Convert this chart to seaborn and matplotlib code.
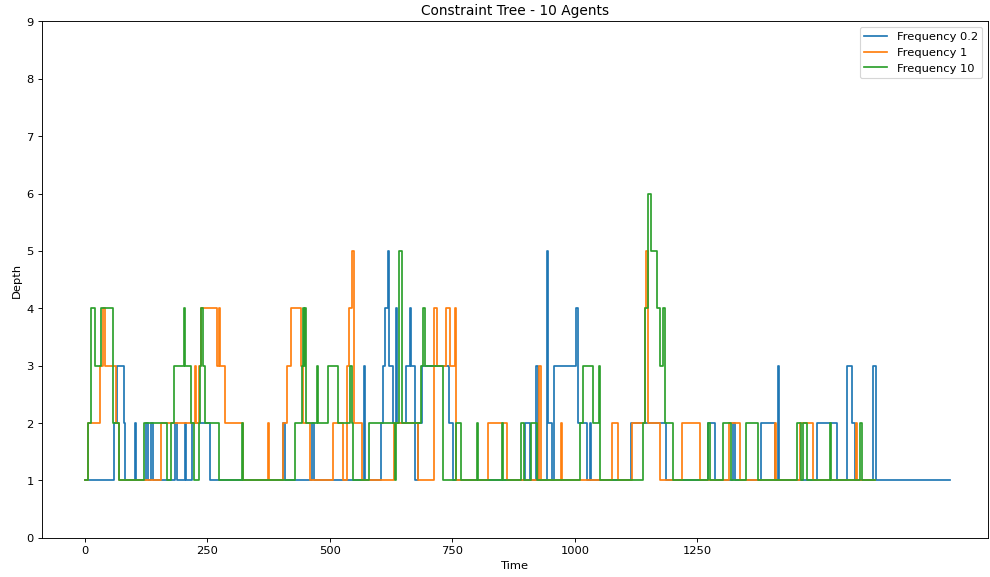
import matplotlib
matplotlib.use("Agg")
import matplotlib.pyplot as plt
import seaborn as sns
import pandas as pd

# Change points of each run: time at which the depth switches, and the new depth
freq_02_time = [0, 60, 66, 80, 83, 102, 104, 125, 130, 136, 139, 185, 189, 204, 207,
                218, 255, 405, 409, 464, 468, 569, 572, 605, 609, 612, 618, 620, 630,
                635, 637, 656, 663, 666, 673, 680, 688, 743, 751, 898, 908, 921, 925,
                944, 946, 954, 958, 1003, 1007, 1025, 1030, 1033, 1114, 1187, 1271,
                1286, 1322, 1326, 1379, 1408, 1414, 1416, 1495, 1534, 1556, 1566,
                1571, 1609, 1614, 1766]
freq_02_depth = [1, 2, 3, 2, 1, 2, 1, 2, 1, 2, 1, 2, 1, 2, 1,
                 2, 1, 2, 1, 2, 1, 3, 1, 2, 3, 4, 5, 3, 2,
                 4, 2, 3, 4, 3, 1, 2, 3, 2, 1, 2, 1, 3, 1,
                 5, 2, 1, 3, 4, 2, 1, 2, 1, 2, 1, 2,
                 1, 2, 1, 2, 1, 3, 1, 2, 1, 3, 2,
                 1, 3, 1, 1]

freq_1_time = [0, 7, 31, 37, 41, 64, 70, 156, 224, 227, 233, 238, 269, 273, 276, 286,
               323, 373, 377, 405, 412, 420, 441, 445, 459, 506, 527, 536, 539, 545,
               549, 565, 632, 680, 712, 718, 737, 746, 756, 758, 823, 862, 926, 930,
               971, 974, 1075, 1088, 1116, 1143, 1146, 1150, 1173, 1219, 1255, 1314,
               1337, 1408, 1411, 1459, 1486, 1573, 1576, 1612]
freq_1_depth = [1, 2, 3, 4, 3, 2, 1, 2, 3, 2, 3, 4, 3, 4, 3, 2,
                1, 2, 1, 2, 3, 4, 3, 2, 1, 2, 1, 3, 4, 5,
                2, 1, 2, 1, 4, 3, 4, 3, 4, 1, 2, 1, 3, 1,
                2, 1, 2, 1, 2, 4, 5, 2, 1, 2, 1, 2,
                1, 2, 1, 2, 1, 2, 1, 1]

freq_10_time = [0, 7, 12, 22, 33, 58, 70, 120, 168, 177, 182, 202, 204, 216, 222, 233,
                235, 238, 241, 245, 274, 320, 323, 430, 444, 446, 448, 450, 452, 473,
                475, 497, 516, 541, 545, 547, 580, 633, 636, 641, 647, 687, 691, 694,
                731, 757, 767, 801, 803, 852, 854, 890, 897, 911, 922, 1011, 1016,
                1037, 1050, 1052, 1139, 1143, 1149, 1155, 1167, 1173, 1180, 1183,
                1200, 1271, 1276, 1303, 1318, 1349, 1373, 1454, 1461, 1465, 1474,
                1520, 1522, 1582, 1585, 1612]
freq_10_depth = [1, 2, 4, 3, 4, 2, 1, 2, 1, 2, 3, 4, 3, 2, 1, 2,
                 3, 4, 3, 2, 1, 2, 1, 2, 3, 4, 3, 4, 2, 3,
                 2, 3, 2, 3, 2, 1, 2, 1, 2, 5, 2, 3, 4, 3,
                 1, 2, 1, 2, 1, 2, 1, 2, 1, 2, 1, 2, 3,
                 2, 3, 1, 2, 4, 6, 5, 4, 3, 4, 2,
                 1, 2, 1, 2, 1, 2, 1, 2, 1, 2, 1,
                 2, 1, 2, 1, 1]

series_labels = ["Frequency 0.2", "Frequency 1", "Frequency 10"]
x_ticks = [0, 250, 500, 750, 1000, 1250]

frames = []
for label, t, d in zip(series_labels,
                       [freq_02_time, freq_1_time, freq_10_time],
                       [freq_02_depth, freq_1_depth, freq_10_depth]):
    frames.append(pd.DataFrame({"Time": t, "Depth": d, "Run": label}))
data = pd.concat(frames, ignore_index=True)

fig, ax = plt.subplots(figsize=(12, 7), dpi=82.5)
fig.subplots_adjust(left=0.042, right=0.998, top=0.962, bottom=0.068)

sns.lineplot(data=data, x="Time", y="Depth", hue="Run", hue_order=series_labels,
             palette=["#1f77b4", "#ff7f0e", "#2ca02c"], estimator=None,
             drawstyle="steps-post", linewidth=1.5, ax=ax)

ax.set_title("Constraint Tree - 10 Agents")
ax.set_xlabel("Time")
ax.set_ylabel("Depth")
ax.set_ylim(0, 9)
ax.set_yticks(range(0, 10))
ax.set_xticks(x_ticks)
ax.set_xlim(-88, 1843)

handles, labels = ax.get_legend_handles_labels()
ax.legend(handles, labels, loc="upper right")

fig.savefig("out.png", dpi=82.5)
